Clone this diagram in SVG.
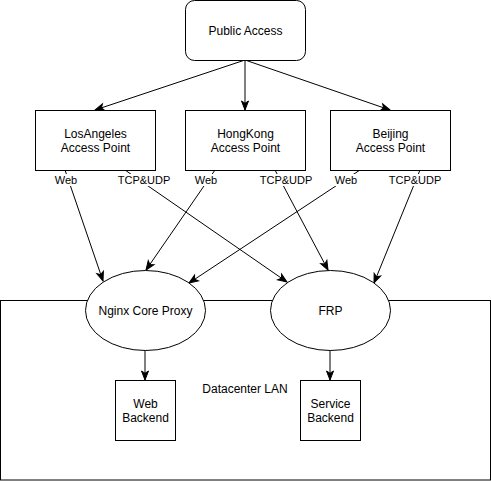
<svg xmlns="http://www.w3.org/2000/svg" width="491" height="481" viewBox="0 0 491 481">
<style>
.shape{fill:#fff;stroke:#000;stroke-width:1}
.t{font-family:"Liberation Sans",Arial,sans-serif;font-size:12px;fill:#000;text-anchor:middle;dominant-baseline:central}
.lbl{font-family:"Liberation Sans",Arial,sans-serif;font-size:11px;fill:#000;text-anchor:middle;dominant-baseline:central}
.e{fill:none;stroke:#000;stroke-width:1}
</style>
<defs>
<marker id="arr" markerUnits="userSpaceOnUse" markerWidth="12" markerHeight="10" refX="0" refY="0" viewBox="-10 -5 12 10" orient="auto" overflow="visible">
<path d="M0,0 L-9,-3.5 L-6.75,0 L-9,3.5 Z" fill="#000" stroke="#000" stroke-width="1"/>
</marker>
</defs>
<rect width="491" height="481" fill="#fff"/>
<g id="lan">
<rect class="shape" x="0.5" y="300.5" width="490" height="179.5"/>
<text class="t" x="245" y="389">Datacenter LAN</text>
</g>
<g id="connectors">
<line class="e" x1="245" y1="60" x2="95" y2="110" marker-end="url(#arr)"/>
<line class="e" x1="245" y1="60" x2="245" y2="110" marker-end="url(#arr)"/>
<line class="e" x1="245" y1="60" x2="390" y2="110" marker-end="url(#arr)"/>
<line class="e" x1="65" y1="170" x2="103" y2="281" marker-end="url(#arr)"/>
<line class="e" x1="125" y1="170" x2="287" y2="282" marker-end="url(#arr)"/>
<line class="e" x1="215" y1="170" x2="146" y2="270" marker-end="url(#arr)"/>
<line class="e" x1="275" y1="170" x2="328" y2="270" marker-end="url(#arr)"/>
<line class="e" x1="360" y1="170" x2="189" y2="283" marker-end="url(#arr)"/>
<line class="e" x1="420" y1="170" x2="374" y2="283" marker-end="url(#arr)"/>
<line class="e" x1="145" y1="350" x2="145" y2="380" marker-end="url(#arr)"/>
<line class="e" x1="330" y1="350" x2="330" y2="380" marker-end="url(#arr)"/>
<g id="edge-labels">
<rect x="54" y="174" width="24" height="12" fill="#fff"/>
<text class="lbl" x="66" y="180">Web</text>
<rect x="118" y="174" width="52" height="12" fill="#fff"/>
<text class="lbl" x="144" y="180">TCP&amp;UDP</text>
<rect x="194" y="174" width="24" height="12" fill="#fff"/>
<text class="lbl" x="206" y="180">Web</text>
<rect x="260" y="174" width="52" height="12" fill="#fff"/>
<text class="lbl" x="286" y="180">TCP&amp;UDP</text>
<rect x="334" y="174" width="24" height="12" fill="#fff"/>
<text class="lbl" x="346" y="180">Web</text>
<rect x="389" y="174" width="52" height="12" fill="#fff"/>
<text class="lbl" x="415" y="180">TCP&amp;UDP</text>
</g>
</g>
<g id="public-access">
<rect class="shape" x="185.5" y="0.5" width="120" height="60" rx="9" ry="9"/>
<text class="t" x="245.5" y="30.5">Public Access</text>
</g>
<g id="la">
<rect class="shape" x="35.5" y="110.5" width="120" height="60"/>
<text class="t" x="95.5" y="133.5">LosAngeles</text>
<text class="t" x="95.5" y="147.5">Access Point</text>
</g>
<g id="hk">
<rect class="shape" x="185.5" y="110.5" width="120" height="60"/>
<text class="t" x="245.5" y="133.5">HongKong</text>
<text class="t" x="245.5" y="147.5">Access Point</text>
</g>
<g id="bj">
<rect class="shape" x="330.5" y="110.5" width="120" height="60"/>
<text class="t" x="390.5" y="133.5">Beijing</text>
<text class="t" x="390.5" y="147.5">Access Point</text>
</g>
<g id="nginx">
<ellipse class="shape" cx="145.5" cy="310.5" rx="60" ry="40"/>
<text class="t" x="145.5" y="310.5">Nginx Core Proxy</text>
</g>
<g id="frp">
<ellipse class="shape" cx="330.5" cy="310.5" rx="60" ry="40"/>
<text class="t" x="330.5" y="310.5">FRP</text>
</g>
<g id="web-backend">
<rect class="shape" x="115.5" y="380.5" width="60" height="60"/>
<text class="t" x="145.5" y="403.5">Web</text>
<text class="t" x="145.5" y="417.5">Backend</text>
</g>
<g id="service-backend">
<rect class="shape" x="300.5" y="380.5" width="60" height="60"/>
<text class="t" x="330.5" y="403.5">Service</text>
<text class="t" x="330.5" y="417.5">Backend</text>
</g>
</svg>
